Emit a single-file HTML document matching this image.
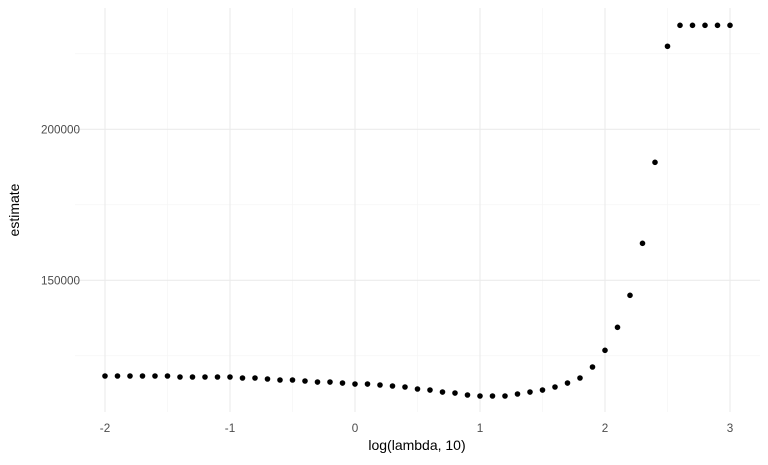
<!DOCTYPE html>
<html><head><meta charset="utf-8"><style>
body{margin:0;background:#fff;font-family:"Liberation Sans",Arial,sans-serif}
svg text{font-family:"Liberation Sans",Arial,sans-serif}
</style></head><body>
<svg id="chart" width="768" height="460" xmlns="http://www.w3.org/2000/svg">
<g id="grid"></g>
<g id="pts"></g>
<g id="axes"></g>
<text x="417" y="450" text-anchor="middle" font-size="14" fill="#000">log(lambda, 10)</text>
<text transform="translate(19,210) rotate(-90)" text-anchor="middle" font-size="14" fill="#000">estimate</text>
</svg>
<script>
const loglambda=[-2,-1.9,-1.8,-1.7,-1.6,-1.5,-1.4,-1.3,-1.2,-1.1,-1,-0.9,-0.8,-0.7,-0.6,-0.5,-0.4,-0.3,-0.2,-0.1,0,0.1,0.2,0.3,0.4,0.5,0.6,0.7,0.8,0.9,1,1.1,1.2,1.3,1.4,1.5,1.6,1.7,1.8,1.9,2,2.1,2.2,2.3,2.4,2.5,2.6,2.7,2.8,2.9,3];
const estimate=[118310,118310,118310,118310,118310,118310,117980,117980,117980,117980,117980,117650,117650,117320,116990,116990,116660,116320,116320,115990,115660,115660,115330,115000,114670,114010,113670,113010,112680,112020,111690,111690,111690,112350,113010,113670,114670,115990,117650,121290,126820,134440,145030,162250,189070,227480,234430,234430,234430,234430,234430];
const xTicks=[-2,-1,0,1,2,3];
const xMinor=[-1.5,-0.5,0.5,1.5,2.5];
const yTicks=[150000,200000];
const yTickLabels=["150000","200000"];
const yMinor=[125000,175000,225000];
const NS="http://www.w3.org/2000/svg";
const X=v=>355+125*v;
const Y=v=>280.3-(v-150000)/331.1;
const L=75,R=760,T=8,B=412;
function mk(tag,attrs,parent){const e=document.createElementNS(NS,tag);for(const k in attrs)e.setAttribute(k,attrs[k]);parent.appendChild(e);return e;}
const grid=document.getElementById('grid'),pts=document.getElementById('pts'),axes=document.getElementById('axes');
yMinor.forEach(v=>{const l=mk('line',{x1:L,x2:R,y1:Y(v),y2:Y(v),stroke:'#f3f3f3','stroke-width':0.6},grid);

});
xMinor.forEach(v=>{const l=mk('line',{x1:X(v),x2:X(v),y1:T,y2:B,stroke:'#f3f3f3','stroke-width':0.6},grid);

});
yTicks.forEach((v,i)=>{const l=mk('line',{x1:L,x2:R,y1:Y(v),y2:Y(v),stroke:'#ebebeb','stroke-width':1.1},grid);


const t=mk('text',{x:80,y:Y(v)+4,'text-anchor':'end','font-size':11.7,fill:'#4d4d4d'},axes);t.textContent=yTickLabels[i];

});
xTicks.forEach(v=>{const l=mk('line',{x1:X(v),x2:X(v),y1:T,y2:B,stroke:'#ebebeb','stroke-width':1.1},grid);


const t=mk('text',{x:X(v),y:432,'text-anchor':'middle','font-size':11.7,fill:'#4d4d4d'},axes);t.textContent=String(v);

});
loglambda.forEach((v,i)=>{const c=mk('circle',{cx:X(v),cy:Y(estimate[i]),r:2.8,fill:'#000'},pts);

});
</script>
</body></html>
